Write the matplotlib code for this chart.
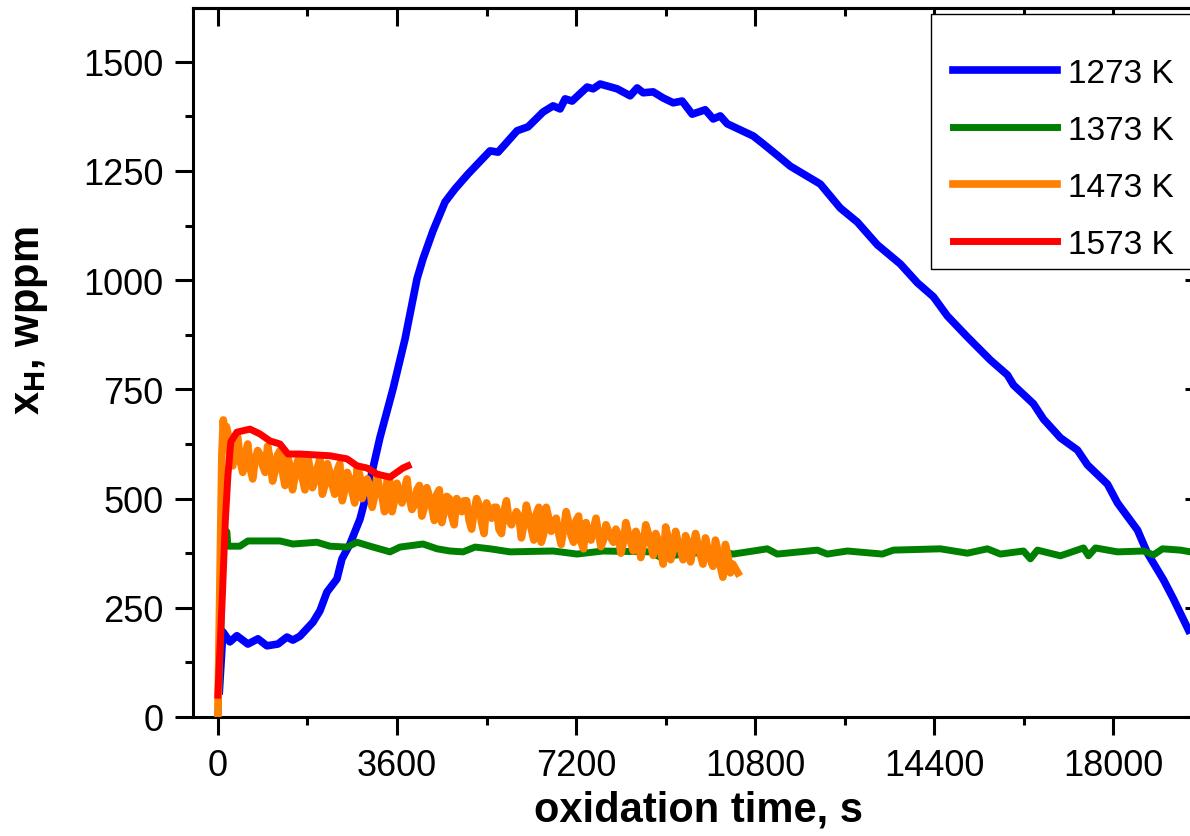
import matplotlib
matplotlib.use("Agg")
import matplotlib.pyplot as plt
from matplotlib.patches import Rectangle
from matplotlib.ticker import MultipleLocator

plt.rcParams['font.family'] = 'Liberation Sans'
plt.rcParams['mathtext.fontset'] = 'custom'
plt.rcParams['mathtext.rm'] = 'Liberation Sans'
plt.rcParams['mathtext.bf'] = 'Liberation Sans:bold'

# 1273 K
t_1273 = [30, 101, 241, 382, 603, 805, 986, 1207, 1388, 1508, 1649, 1911, 2051, 2192,
          2393, 2494, 2655, 2856, 3057, 3258, 3520, 3761, 4002, 4123, 4324, 4566, 4767,
          5028, 5471, 5632, 6014, 6235, 6537, 6738, 6878, 6979, 7120, 7422, 7542, 7683,
          8025, 8286, 8427, 8548, 8749, 8950, 9151, 9332, 9533, 9795, 9956, 10097, 10237,
          10760, 10961, 11263, 11504, 12108, 12510, 12852, 13254, 13717, 14059, 14381,
          14662, 15064, 15527, 15869, 15990, 16392, 16593, 16935, 17277, 17478, 17880,
          18081, 18483, 18684, 19006, 19207, 19509]
x_1273 = [60, 195, 172, 186, 167, 179, 163, 167, 183, 176, 185, 217, 243, 286,
          316, 362, 396, 453, 540, 640, 751, 865, 1003, 1049, 1113, 1179, 1209,
          1243, 1296, 1293, 1342, 1351, 1385, 1399, 1392, 1415, 1410, 1442, 1438, 1449,
          1438, 1422, 1440, 1429, 1431, 1417, 1406, 1410, 1380, 1390, 1369, 1376, 1358,
          1330, 1312, 1284, 1261, 1220, 1165, 1133, 1081, 1037, 994, 962,
          918, 870, 817, 783, 760, 717, 682, 639, 611, 577, 533,
          490, 428, 375, 314, 270, 199]

# 1373 K
t_1373 = [0, 60, 110, 181, 201, 442, 603, 1247, 1508, 1991, 2253, 2594, 2796, 3057, 3459,
          3661, 4123, 4405, 4666, 4928, 5169, 5471, 5873, 6738, 7220, 7743, 8689, 8890,
          9500, 10100, 10358, 10760, 11042, 11243, 12048, 12249, 12651, 13355, 13576,
          14521, 15064, 15467, 15728, 16191, 16331, 16472, 16935, 17398, 17498, 17639,
          18081, 18604, 18805, 18986, 19348, 19550]
x_1373 = [0, 200, 430, 424, 391, 391, 403, 403, 396, 400, 391, 389, 400, 391, 378,
          389, 396, 385, 380, 378, 389, 385, 378, 380, 373, 380, 378, 366,
          375, 378, 373, 380, 385, 373, 382, 373, 380, 373, 382,
          385, 375, 385, 373, 380, 362, 382, 369, 387, 369, 387,
          378, 380, 371, 385, 382, 378]

# 1473 K
t_1473 = [0, 40, 80, 110, 140, 170, 200, 250, 300, 350, 400, 450, 500, 550, 600, 650,
          700, 750, 800, 850, 900, 950, 1000, 1050, 1100, 1150, 1200, 1250, 1300, 1350,
          1400, 1450, 1500, 1550, 1600, 1650, 1700, 1750, 1800, 1850, 1900, 1950, 2000,
          2050, 2100, 2150, 2200, 2250, 2300, 2350, 2400, 2450, 2500, 2550, 2600, 2650,
          2700, 2750, 2800, 2850, 2900, 2950, 3000, 3050, 3100, 3150, 3200, 3250, 3300,
          3350, 3400, 3450, 3500, 3550, 3600, 3650, 3700, 3750, 3800, 3850, 3900, 3950,
          4000, 4050, 4100, 4150, 4200, 4250, 4300, 4350, 4400, 4450, 4500, 4550, 4600,
          4650, 4700, 4750, 4800, 4850, 4900, 4950, 5000, 5050, 5100, 5150, 5200, 5250,
          5300, 5350, 5400, 5450, 5500, 5550, 5600, 5650, 5700, 5750, 5800, 5850, 5900,
          5950, 6000, 6050, 6100, 6150, 6200, 6250, 6300, 6350, 6400, 6450, 6500, 6550,
          6600, 6650, 6700, 6750, 6800, 6850, 6900, 6950, 7000, 7050, 7100, 7150, 7200,
          7250, 7300, 7350, 7400, 7450, 7500, 7550, 7600, 7650, 7700, 7750, 7800, 7850,
          7900, 7950, 8000, 8050, 8100, 8150, 8200, 8250, 8300, 8350, 8400, 8450, 8500,
          8550, 8600, 8650, 8700, 8750, 8800, 8850, 8900, 8950, 9000, 9050, 9100, 9150,
          9200, 9250, 9300, 9350, 9400, 9450, 9500, 9550, 9600, 9650, 9700, 9750, 9800,
          9850, 9900, 9950, 10000, 10050, 10100, 10150, 10200, 10250, 10300, 10350,
          10400, 10450]
x_1473 = [0, 300, 600, 680, 620, 665, 650, 590, 575, 630, 640, 585, 560, 600, 625, 570,
          545, 590, 610, 600, 575, 560, 620, 590, 540, 565, 600, 610, 560, 530,
          595, 575, 520, 550, 585, 600, 545, 520, 600, 570, 525, 540, 570, 590,
          510, 530, 580, 560, 530, 510, 565, 580, 495, 520, 560, 545, 515, 490,
          570, 555, 500, 520, 545, 530, 480, 505, 555, 520, 505, 470, 540, 545,
          470, 495, 535, 510, 490, 520, 545, 500, 475, 485, 520, 530, 460, 480,
          525, 505, 480, 450, 510, 520, 445, 470, 505, 500, 460, 440, 500, 490,
          470, 495, 495, 450, 430, 470, 500, 485, 445, 420, 490, 470, 455, 480,
          480, 430, 420, 470, 495, 450, 440, 455, 470, 460, 410, 440, 485, 460,
          430, 405, 465, 480, 400, 420, 480, 455, 425, 440, 455, 420, 395, 430,
          470, 445, 415, 400, 450, 460, 400, 385, 445, 420, 405, 430, 455, 420,
          390, 405, 440, 425, 410, 400, 430, 415, 375, 400, 445, 420, 400, 380,
          425, 410, 365, 395, 440, 420, 395, 370, 420, 405, 380, 350, 435, 410,
          360, 380, 425, 400, 385, 360, 415, 400, 355, 385, 420, 395, 370, 350,
          410, 385, 360, 345, 405, 380, 345, 320, 395, 370, 330, 350,
          340, 330]

# 1573 K
t_1573 = [0, 80, 150, 201, 260, 382, 644, 845, 1046, 1247, 1408, 1649, 2253, 2594,
          2796, 2997, 3198, 3459, 3721, 3821]
x_1573 = [50, 250, 450, 552, 630, 652, 659, 648, 632, 625, 602, 602, 598, 591,
          575, 570, 556, 549, 570, 575]

fig = plt.figure(figsize=(11.9, 8.37), dpi=100)
ax = fig.add_axes([193 / 1190, 1 - 718 / 837, (1203 - 193) / 1190, (718 - 9) / 837])

ax.plot(t_1273, x_1273, color='#0000FF', lw=5.5, label='1273 K', zorder=2)
ax.plot(t_1373, x_1373, color='#008000', lw=5, label='1373 K', zorder=2)
ax.plot(t_1473, x_1473, color='#FF8000', lw=5.5, label='1473 K', zorder=3)
ax.plot(t_1573, x_1573, color='#FF0000', lw=5, label='1573 K', zorder=3)

ax.set_xlim(-500, 19800)
ax.set_ylim(0, 1623)
ax.xaxis.set_major_locator(MultipleLocator(3600))
ax.xaxis.set_minor_locator(MultipleLocator(1800))
ax.yaxis.set_major_locator(MultipleLocator(250))
ax.yaxis.set_minor_locator(MultipleLocator(125))

for s in ax.spines.values():
    s.set_linewidth(2.2)
ax.tick_params(which='both', direction='out', width=2.2, labelsize=26)
ax.tick_params(which='major', length=13)
ax.tick_params(which='minor', length=6)
ax.tick_params(axis='x', pad=9)
ax.tick_params(axis='y', pad=8)

# inward ticks on top and right
top = ax.secondary_xaxis('top')
top.xaxis.set_major_locator(MultipleLocator(3600))
top.xaxis.set_minor_locator(MultipleLocator(1800))
top.tick_params(which='both', direction='in', width=2.2, labeltop=False)
top.tick_params(which='major', length=13)
top.tick_params(which='minor', length=6)
top.spines['top'].set_linewidth(2.2)
right = ax.secondary_yaxis('right')
right.yaxis.set_major_locator(MultipleLocator(250))
right.yaxis.set_minor_locator(MultipleLocator(125))
right.tick_params(which='both', direction='in', width=2.2, labelright=False)
right.tick_params(which='major', length=13)
right.tick_params(which='minor', length=6)
right.spines['right'].set_linewidth(2.2)

ax.set_xlabel('oxidation time, s', fontsize=30, fontweight='bold')
ax.xaxis.set_label_coords(0.5, -0.102)
ax.set_ylabel(r'$\mathbf{x_H}$, wppm', fontsize=30, fontweight='bold')
ax.yaxis.set_label_coords(-0.1416, 0.561)

# legend box (drawn separately: Origin-style uneven padding)
box = Rectangle((931 / 1190, 1 - 270 / 837), (1260 - 931) / 1190, 255 / 837,
                transform=fig.transFigure, facecolor='white', edgecolor='black',
                lw=1, zorder=4, clip_on=False)
ax.add_patch(box)
leg = ax.legend(loc='upper left', bbox_to_anchor=(953 / 1190, 1 - 59 / 837),
                bbox_transform=fig.transFigure, frameon=False, fontsize=24,
                handlelength=3.12, handletextpad=0.33, labelspacing=0.78,
                borderpad=0, borderaxespad=0)
leg.set_zorder(5)

fig.savefig('out.png', dpi=100)
